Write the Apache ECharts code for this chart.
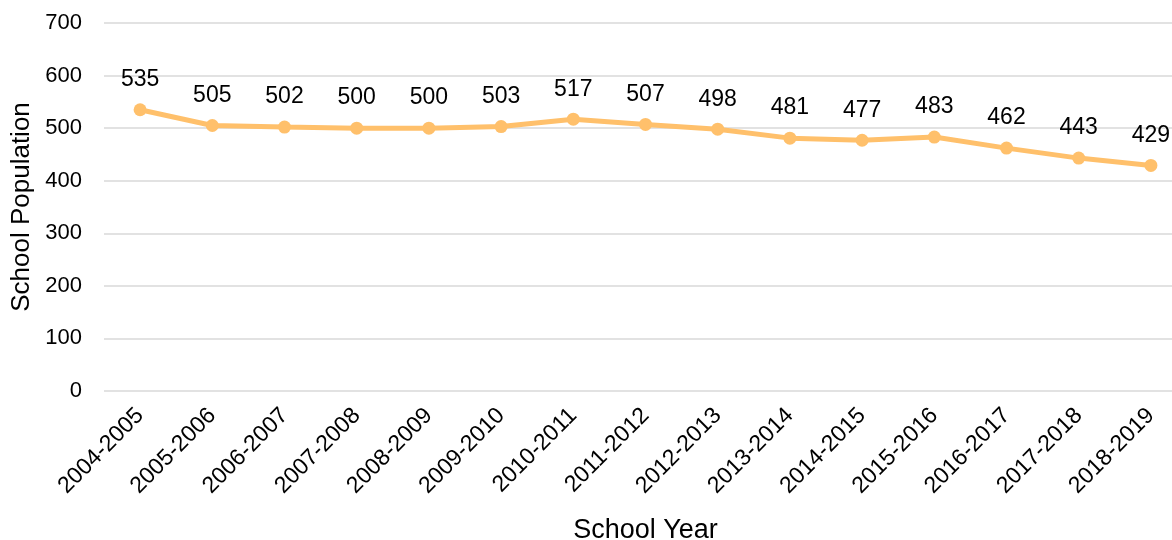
<!DOCTYPE html>
<html>
<head>
<meta charset="utf-8">
<script src="https://cdn.jsdelivr.net/npm/echarts@6/dist/echarts.min.js"></script>
<style>
  html, body { margin: 0; padding: 0; background: #fff; }
  #chart { width: 1172px; height: 540px; }
</style>
</head>
<body>
<div id="chart"></div>
<script>
// school years on the x axis
const years = [
  "2004-2005", "2005-2006", "2006-2007", "2007-2008", "2008-2009",
  "2009-2010", "2010-2011", "2011-2012", "2012-2013", "2013-2014",
  "2014-2015", "2015-2016", "2016-2017", "2017-2018", "2018-2019"
];
// school population per year
const population = [535, 505, 502, 500, 500, 503, 517, 507, 498, 481, 477, 483, 462, 443, 429];

const font = "Liberation Sans, Arial, sans-serif";

const chart = echarts.init(document.getElementById("chart"));
chart.setOption({
  animation: false,
  grid: { left: 104, top: 23, width: 1083, height: 368, outerBoundsMode: "none" },
  xAxis: {
    type: "category",
    data: years,
    name: "School Year",
    nameLocation: "middle",
    nameGap: 126,
    nameTextStyle: { fontFamily: font, fontSize: 27, color: "#000" },
    axisLine: { show: false },
    axisTick: { show: false },
    axisLabel: {
      rotate: 45,
      interval: 0,
      margin: 21,
      fontFamily: font,
      fontSize: 23,
      color: "#000"
    }
  },
  yAxis: {
    type: "value",
    min: 0,
    max: 700,
    interval: 100,
    name: "School Population",
    nameLocation: "middle",
    nameGap: 68,
    nameTextStyle: { fontFamily: font, fontSize: 26, color: "#000" },
    axisLabel: { margin: 22, fontFamily: font, fontSize: 22, color: "#000" },
    splitLine: { lineStyle: { color: "#d9d9d9", width: 1.5 } }
  },
  series: [
    {
      type: "line",
      data: population,
      symbol: "circle",
      symbolSize: 13,
      lineStyle: { color: "#ffc06b", width: 5 },
      itemStyle: { color: "#ffc06b" },
      label: {
        show: true,
        position: "top",
        distance: 12,
        fontFamily: font,
        fontSize: 23,
        color: "#000"
      }
    }
  ]
});
</script>
</body>
</html>
